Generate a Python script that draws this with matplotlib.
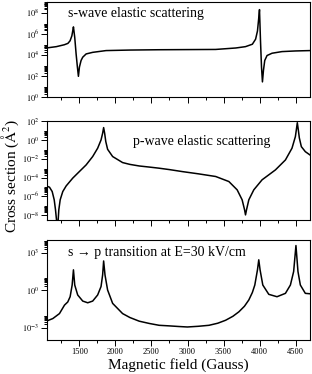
import numpy as np
import matplotlib
matplotlib.use('Agg')
import matplotlib.pyplot as plt
from matplotlib.ticker import FixedLocator, FuncFormatter, NullFormatter

plt.rcParams['font.family'] = ['Liberation Serif', 'DejaVu Serif']
plt.rcParams['mathtext.fontset'] = 'stix'

# valores (campo em Gauss, secao de choque em A^2)
s_campo = [1040, 1180, 1290, 1340, 1370, 1395, 1407, 1417, 1435, 1454, 1472, 1486,
           1500, 1523, 1546, 1593, 1684, 1870, 2200, 2600, 3000, 3390, 3670, 3805,
           3900, 3945, 3971, 3989, 3999, 4013, 4027, 4040, 4054, 4072, 4104, 4173,
           4311, 4497, 4700]
s_secao = [4.4e4, 5.9e4, 8.9e4, 1.2e5, 2.1e5, 6.2e5, 1.8e6, 4.4e6, 4.4e5, 1.2e4, 680, 91,
           680, 2.9e3, 5.9e3, 1.2e4, 1.7e4, 2.5e4, 2.8e4, 3.0e4, 3.1e4, 3.2e4, 4.4e4, 5.9e4,
           1.0e5, 3.0e5, 1.8e6, 3.2e7, 1.9e8, 2.1e5, 680, 27, 330, 2.9e3, 8.5e3, 1.4e4,
           2.0e4, 2.3e4, 2.5e4]

p_campo = [1040, 1085, 1122, 1150, 1168, 1182, 1192, 1205, 1214, 1233, 1269, 1316,
           1407, 1500, 1593, 1684, 1753, 1800, 1822, 1836, 1850, 1866, 1891, 1961,
           2099, 2200, 2330, 2470, 2600, 2750, 2929, 3150, 3391, 3574, 3689, 3758,
           3792, 3805, 3819, 3851, 3920, 4035, 4130, 4220, 4359, 4450, 4497, 4510,
           4524, 4538, 4552, 4580, 4635, 4700]
p_secao = [1.3e-5, 9.5e-6, 3.3e-6, 4.4e-7, 3.8e-8, 3.2e-9, 1e-10, 3.2e-9, 3.8e-8, 4.4e-7, 3.3e-6, 1.3e-5,
           8.7e-5, 4.4e-4, 2.2e-3, 1.7e-2, 0.13, 0.98, 5.0, 20, 5.0, 0.65, 0.1, 1.7e-2,
           3.9e-3, 2.5e-3, 1.7e-3, 1.3e-3, 1.0e-3, 7.0e-4, 4.3e-4, 2.5e-4, 1.3e-4, 3.8e-5, 5.0e-6, 4.4e-7,
           3.8e-8, 1.1e-8, 3.8e-8, 4.4e-7, 5.0e-6, 5.8e-5, 2.0e-4, 6.5e-4, 7.4e-3, 0.13, 2.2, 11,
           66, 11, 1.6, 0.19, 5.6e-2, 2.5e-2]

t_campo = [1040, 1131, 1223, 1293, 1338, 1371, 1399, 1417, 1435, 1476, 1546, 1615,
           1684, 1753, 1800, 1822, 1836, 1855, 1891, 1961, 2099, 2200, 2330, 2470,
           2606, 2745, 2880, 2998, 3150, 3298, 3420, 3529, 3630, 3713, 3790, 3851,
           3900, 3934, 3971, 3989, 4007, 4045, 4128, 4242, 4359, 4428, 4473, 4505,
           4533, 4566, 4635, 4700]
t_secao = [3.2e-3, 5.2e-3, 1.3e-2, 6.2e-2, 0.11, 0.29, 2.5, 41, 2.5, 0.4, 0.13, 9.5e-2,
           0.13, 0.4, 1.9, 16, 210, 16, 1.0, 8.5e-2, 1.3e-2, 6.3e-3, 3.2e-3, 2.1e-3,
           1.5e-3, 1.35e-3, 1.2e-3, 1.1e-3, 1.25e-3, 1.5e-3, 2.2e-3, 3.8e-3, 7.9e-3, 1.8e-2, 5.0e-2, 0.16,
           0.63, 2.5, 41, 260, 41, 2.5, 0.45, 0.29, 0.54, 2.5, 30, 3.6e3,
           30, 2.5, 0.54, 0.5]

rotulos = ['s-wave elastic scattering', 'p-wave elastic scattering',
           's \u2192 p transition at E=30 kV/cm']

fig = plt.figure(figsize=(3.12, 3.74), dpi=100)
esq, larg = 47 / 312, 263 / 312
caixas = [(2, 97), (121, 220), (240, 340)]
limites_y = [(1, 1e9), (10**-8.5, 1e2), (1e-4, 1e4)]
expoentes = [np.arange(0, 9, 2), np.arange(-8, 3, 2), np.arange(-3, 4, 3)]
dados = [(s_campo, s_secao), (p_campo, p_secao), (t_campo, t_secao)]
pos_texto = [(0.08, 0.874), (0.327, 0.79), (0.08, 0.877)]

def fmt_pot(v, pos):
    return r'$10^{%d}$' % int(round(np.log10(v)))

for i in range(3):
    topo, base = caixas[i]
    ax = fig.add_axes([esq, 1 - base / 374, larg, (base - topo) / 374])
    x, y = dados[i]
    ax.plot(x, y, color='black', lw=1.1)
    ax.set_yscale('log')
    ax.set_xlim(1050, 4700)
    ax.set_ylim(*limites_y[i])

    maiores = 10.0 ** expoentes[i]
    menores = [k * m for m in maiores for k in range(2, 10)]
    ax.yaxis.set_major_locator(FixedLocator(maiores))
    ax.yaxis.set_minor_locator(FixedLocator(menores))
    ax.yaxis.set_major_formatter(FuncFormatter(fmt_pot))
    ax.yaxis.set_minor_formatter(NullFormatter())

    ax.xaxis.set_major_locator(FixedLocator(np.arange(1500, 4501, 500)))
    ax.xaxis.set_minor_locator(FixedLocator(np.arange(1250, 4700, 250)))
    if i < 2:
        ax.set_xticklabels([])

    ax.tick_params(which='both', direction='out', top=False, right=False,
                   labelsize=6, pad=1.5, width=0.7)
    ax.tick_params(which='major', length=4)
    ax.tick_params(which='minor', length=2.5)
    for sp in ax.spines.values():
        sp.set_linewidth(0.8)

    ax.text(pos_texto[i][0], pos_texto[i][1], rotulos[i], transform=ax.transAxes,
            fontsize=10, va='center', ha='left')

fig.text(10 / 312, 0.53, r'Cross section (${\rm\AA}^2$)', rotation=90,
         fontsize=11, ha='center', va='center')
fig.text(178.5 / 312, 1 - 365 / 374, 'Magnetic field (Gauss)', fontsize=11,
         ha='center', va='center')

fig.savefig('out.png', dpi=100)
